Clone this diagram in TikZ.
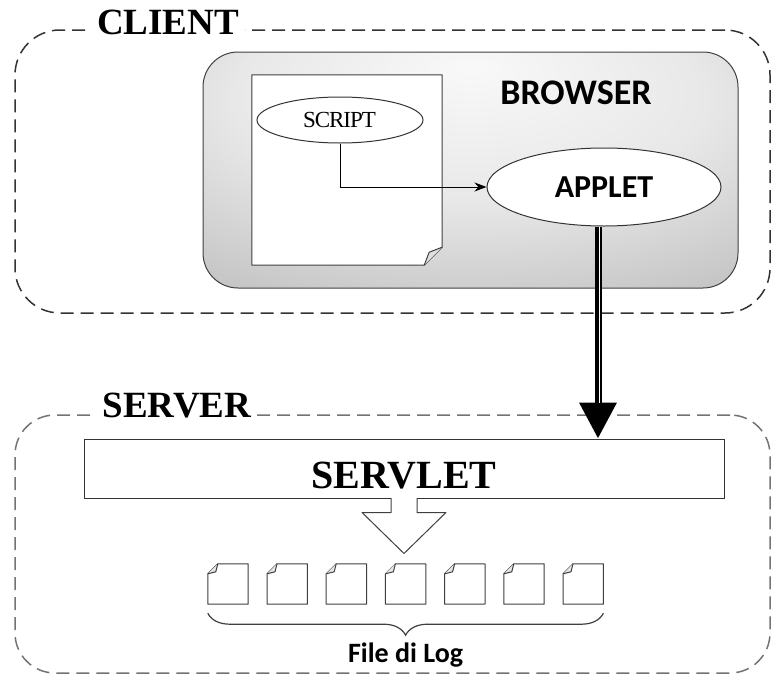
\documentclass[tikz,border=0pt]{standalone}
\usepackage{fontspec}
\setmainfont{Liberation Serif}
\newfontfamily\calibri{Carlito}
\usetikzlibrary{shapes,arrows.meta,positioning,decorations.pathreplacing}

\pgfdeclareradialshading{browsershade}{\pgfpoint{0bp}{22bp}}{color(0bp)=(gray!5); color(22bp)=(gray!18); color(50bp)=(gray!58); color(75bp)=(gray!68)}

\begin{document}
\begin{tikzpicture}[
    x=1pt, y=-1pt,
    zone/.style={rectangle, draw=#1, dash pattern=on 13pt off 7pt, line width=1.5pt, inner sep=0pt},
    zonelabel/.style={fill=white, inner xsep=6pt, anchor=base, font=\bfseries\fontsize{37}{37}\selectfont},
    browserbox/.style={rectangle, draw=black!75, line width=1pt, rounded corners=35pt, shading=browsershade, minimum width=535pt, minimum height=236pt},
    bubble/.style={ellipse, draw=black!80, line width=1pt, fill=white, inner sep=0pt},
    logfile/.style={minimum width=40pt, minimum height=40pt, inner sep=0pt},
    fileline/.style={draw=black!75, line width=1pt, line join=round},
    arrow/.style={->, >={Stealth[length=12pt,width=9pt]}, line width=1pt},
    bigarrow/.style={-{Triangle[length=36pt,width=36pt]}, line width=7pt}
]
\useasboundingbox (0,0) rectangle (772,675);

% Client side
\node[zone=black!80, rounded corners=45pt, minimum width=755pt, minimum height=283pt] (client) at (392.5,171.5) {};
\node[zonelabel] (clientlabel) at (168,34) {CLIENT};
\node[browserbox] (browser) at (470.5,170) {};
\node[font=\calibri\bfseries\fontsize{36}{36}\selectfont] (browsertitle) at (576,93) {BROWSER};

% Page with folded corner
\node[minimum width=190pt, minimum height=190pt, inner sep=0pt] (page) at (347,170) {};
\draw[fileline, fill=white] (page.south west) -- (page.north west) -- (page.north east) -- ([yshift=18pt]page.south east) -- ([xshift=-18pt]page.south east) -- cycle;
\draw[fileline, fill=gray!25] ([yshift=18pt]page.south east) -- ([xshift=-13pt,yshift=13pt]page.south east) -- ([xshift=-18pt]page.south east);

\node[bubble, minimum width=166pt, minimum height=46pt, font=\fontsize{23}{23}\selectfont] (script) at (340,120) {\kern-1pt S\kern-1ptC\kern-1ptR\kern-1ptI\kern-1ptP\kern-1ptT};
\node[bubble, minimum width=234pt, minimum height=78pt, font=\calibri\bfseries\fontsize{32}{32}\selectfont] (applet) at (604,187) {APPLET};
\draw[arrow] (script.south) |- (applet.west);

% Server side
\node[zone=black!55, rounded corners=40pt, minimum width=755pt, minimum height=258pt] (server) at (392.5,544) {};
\node[zonelabel] (serverlabel) at (177,417) {SERVER};
\node[draw=black!80, line width=1pt, fill=white, minimum width=640pt, minimum height=59pt, text height=40pt, text depth=0pt, font=\bfseries\fontsize{40}{40}\selectfont] (servlet) at (404,468.5) {SERVLET};

% Applet to servlet
\draw[bigarrow] ([xshift=-6pt]applet.south) -- ([xshift=-6pt]applet.south |- servlet.north);
\draw[white, line width=1.2pt] ([xshift=-4.5pt]applet.south) -- ([xshift=-4.5pt,yshift=36pt]applet.south |- servlet.north);

% Servlet writes the logs
\draw[fileline, fill=white] ([xshift=-13pt,yshift=0.5pt]servlet.south) -- ++(0,14.5) -- ++(-29,0) -- ++(42,41) -- ++(42,-41) -- ++(-29,0) -- ++(0,-14.5);

\foreach \i in {1,...,7} {
  \node[logfile] (log\i) at ({228+59.2*(\i-1)},584) {};
  \draw[fileline, fill=white] (log\i.south west) -- (log\i.south east) -- (log\i.north east) -- ([xshift=10pt]log\i.north west) -- ([yshift=-10pt]log\i.north west) -- cycle;
  \draw[fileline, fill=gray!20] ([xshift=10pt]log\i.north west) -- ([xshift=8pt,yshift=-8pt]log\i.north west) -- ([yshift=-10pt]log\i.north west);
}

\draw[decorate, decoration={brace, mirror, amplitude=22pt}, draw=black!75, line width=1.2pt] ([yshift=-9pt]log1.south west) -- ([yshift=-9pt]log7.south east) node[midway, below=26pt, font=\calibri\bfseries\fontsize{28}{28}\selectfont] (logname) {File di Log};
\end{tikzpicture}
\end{document}
